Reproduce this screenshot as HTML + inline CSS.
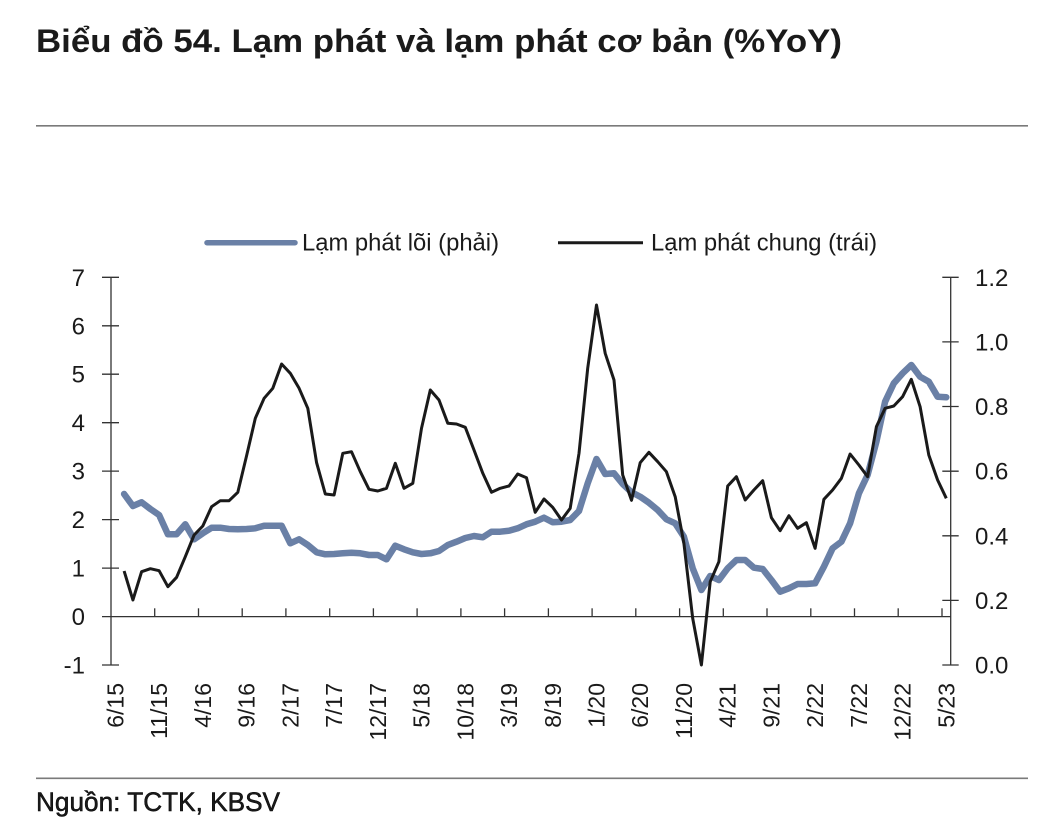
<!DOCTYPE html>
<html>
<head>
<meta charset="utf-8">
<style>
  html,body{margin:0;padding:0;background:#fff;}
  svg{display:block;}
  text{font-family:"Liberation Sans","DejaVu Sans",sans-serif;fill:#1a1a1a;}
</style>
</head>
<body>
<svg width="1038" height="830" viewBox="0 0 1038 830" xmlns="http://www.w3.org/2000/svg">
  <!-- Title -->
  <text x="36" y="52" font-size="32" font-weight="bold" fill="#000" textLength="806" lengthAdjust="spacingAndGlyphs">Biểu đồ 54. Lạm phát và lạm phát cơ bản (%YoY)</text>
  <line x1="36" y1="125.8" x2="1028" y2="125.8" stroke="#7a7a7a" stroke-width="1.6"/>

  <!-- Legend -->
  <line x1="207" y1="242.7" x2="295" y2="242.7" stroke="#6a80a6" stroke-width="5.5" stroke-linecap="round"/>
  <text x="302" y="250.5" font-size="24" textLength="197" lengthAdjust="spacingAndGlyphs">Lạm phát lõi (phải)</text>
  <line x1="558" y1="242.7" x2="643" y2="242.7" stroke="#1a1a1a" stroke-width="3"/>
  <text x="651" y="250.5" font-size="24" textLength="226" lengthAdjust="spacingAndGlyphs">Lạm phát chung (trái)</text>

  <!-- Left axis -->
  <g stroke="#333" stroke-width="1.3">
    <line x1="111" y1="277.3" x2="111" y2="665"/>
    <line x1="102" y1="277.3" x2="119" y2="277.3"/>
    <line x1="102" y1="325.8" x2="119" y2="325.8"/>
    <line x1="102" y1="374.2" x2="119" y2="374.2"/>
    <line x1="102" y1="422.7" x2="119" y2="422.7"/>
    <line x1="102" y1="471.1" x2="119" y2="471.1"/>
    <line x1="102" y1="519.6" x2="119" y2="519.6"/>
    <line x1="102" y1="568.1" x2="119" y2="568.1"/>
    <line x1="102" y1="665" x2="119" y2="665"/>
    <!-- Right axis -->
    <line x1="950.7" y1="277.3" x2="950.7" y2="665"/>
    <line x1="942.3" y1="277.3" x2="958.7" y2="277.3"/>
    <line x1="942.3" y1="341.9" x2="958.7" y2="341.9"/>
    <line x1="942.3" y1="406.5" x2="958.7" y2="406.5"/>
    <line x1="942.3" y1="471.2" x2="958.7" y2="471.2"/>
    <line x1="942.3" y1="535.8" x2="958.7" y2="535.8"/>
    <line x1="942.3" y1="600.4" x2="958.7" y2="600.4"/>
    <line x1="942.3" y1="665" x2="958.7" y2="665"/>
    <!-- X axis -->
    <line x1="102" y1="616.6" x2="950.7" y2="616.6"/>
    <line x1="154.7" y1="608.3" x2="154.7" y2="616.6"/>
    <line x1="198.5" y1="608.3" x2="198.5" y2="616.6"/>
    <line x1="242.2" y1="608.3" x2="242.2" y2="616.6"/>
    <line x1="285.9" y1="608.3" x2="285.9" y2="616.6"/>
    <line x1="329.7" y1="608.3" x2="329.7" y2="616.6"/>
    <line x1="373.4" y1="608.3" x2="373.4" y2="616.6"/>
    <line x1="417.1" y1="608.3" x2="417.1" y2="616.6"/>
    <line x1="460.9" y1="608.3" x2="460.9" y2="616.6"/>
    <line x1="504.6" y1="608.3" x2="504.6" y2="616.6"/>
    <line x1="548.4" y1="608.3" x2="548.4" y2="616.6"/>
    <line x1="592.1" y1="608.3" x2="592.1" y2="616.6"/>
    <line x1="635.8" y1="608.3" x2="635.8" y2="616.6"/>
    <line x1="679.6" y1="608.3" x2="679.6" y2="616.6"/>
    <line x1="723.3" y1="608.3" x2="723.3" y2="616.6"/>
    <line x1="767.0" y1="608.3" x2="767.0" y2="616.6"/>
    <line x1="810.8" y1="608.3" x2="810.8" y2="616.6"/>
    <line x1="854.5" y1="608.3" x2="854.5" y2="616.6"/>
    <line x1="898.2" y1="608.3" x2="898.2" y2="616.6"/>
    <line x1="942.0" y1="608.3" x2="942.0" y2="616.6"/>
  </g>

  <!-- Left axis labels -->
  <g font-size="24" text-anchor="end">
    <text x="85" y="285.8">7</text>
    <text x="85" y="334.3">6</text>
    <text x="85" y="382.7">5</text>
    <text x="85" y="431.2">4</text>
    <text x="85" y="479.6">3</text>
    <text x="85" y="528.1">2</text>
    <text x="85" y="576.6">1</text>
    <text x="85" y="625.1">0</text>
    <text x="85" y="673.5">-1</text>
  </g>
  <!-- Right axis labels -->
  <g font-size="24" text-anchor="start">
    <text x="975" y="285.8">1.2</text>
    <text x="975" y="350.4">1.0</text>
    <text x="975" y="415.0">0.8</text>
    <text x="975" y="479.7">0.6</text>
    <text x="975" y="544.3">0.4</text>
    <text x="975" y="608.9">0.2</text>
    <text x="975" y="673.5">0.0</text>
  </g>

  <!-- X labels (rotated) -->
  <g font-size="23" text-anchor="end">
    <text transform="translate(123.4,683) rotate(-90)">6/15</text>
    <text transform="translate(167.1,683) rotate(-90)">11/15</text>
    <text transform="translate(210.9,683) rotate(-90)">4/16</text>
    <text transform="translate(254.6,683) rotate(-90)">9/16</text>
    <text transform="translate(298.3,683) rotate(-90)">2/17</text>
    <text transform="translate(342.1,683) rotate(-90)">7/17</text>
    <text transform="translate(385.8,683) rotate(-90)">12/17</text>
    <text transform="translate(429.5,683) rotate(-90)">5/18</text>
    <text transform="translate(473.3,683) rotate(-90)">10/18</text>
    <text transform="translate(517.0,683) rotate(-90)">3/19</text>
    <text transform="translate(560.8,683) rotate(-90)">8/19</text>
    <text transform="translate(604.5,683) rotate(-90)">1/20</text>
    <text transform="translate(648.2,683) rotate(-90)">6/20</text>
    <text transform="translate(692.0,683) rotate(-90)">11/20</text>
    <text transform="translate(735.7,683) rotate(-90)">4/21</text>
    <text transform="translate(779.4,683) rotate(-90)">9/21</text>
    <text transform="translate(823.2,683) rotate(-90)">2/22</text>
    <text transform="translate(866.9,683) rotate(-90)">7/22</text>
    <text transform="translate(910.6,683) rotate(-90)">12/22</text>
    <text transform="translate(954.4,683) rotate(-90)">5/23</text>
  </g>

  <!-- Blue series (core inflation) -->
  <polyline fill="none" stroke="#6a80a6" stroke-width="6.5" stroke-linejoin="round" stroke-linecap="round" points="
124.1,494 132.9,506 141.6,502.3 150.4,509 159.1,515 167.9,534.3 176.6,534.3 185.3,524.3 194.1,539.3 202.8,533.3
211.6,527.7 220.3,527.7 229.1,529 237.8,529.3 246.6,529 255.3,528.3 264.1,525.7 272.8,525.7 281.6,525.7 290.3,543.3
299.1,539.3 307.8,545 316.6,552.3 325.3,554.3 334.1,554 342.8,553.3 351.5,552.7 360.3,553.3 369.0,555 377.8,555
386.5,559.3 395.3,545.7 404.0,549.3 412.8,552.3 421.5,554 430.3,553.3 439.0,551 447.8,545 456.5,541.7 465.3,538
474.0,536 482.8,537.3 491.5,531.7 500.2,531.7 509.0,530.7 517.7,528.3 526.5,524.3 535.2,521.7 544.0,517.7 552.7,522.3
561.5,521.7 570.2,520 579.0,511 587.7,483.3 596.5,459 605.2,474 614.0,473.3 622.7,484 631.5,492.2 640.2,496.7
648.9,502.7 657.7,510 666.4,519.3 675.2,523.3 683.9,536.7 692.7,568.3 701.4,590 710.2,576 718.9,580 727.7,568.3
736.4,560 745.2,560 753.9,567.7 762.7,569 771.4,580 780.1,591.7 788.9,588.3 797.6,584 806.4,584 815.1,583.3
823.9,566.7 832.6,548.3 841.4,541.7 850.1,523.3 858.9,493.3 867.6,475 876.4,441.7 885.1,401.7 893.8,383.3 902.6,373.3
911.3,365 920.1,376.7 928.8,381.7 937.6,396.7 946.3,397.3"/>

  <!-- Black series (headline inflation) -->
  <polyline fill="none" stroke="#1a1a1a" stroke-width="3" stroke-linejoin="round" points="
124.1,571 132.9,600 141.6,571.7 150.4,568.7 159.1,570.7 167.9,586.7 176.6,577.3 185.3,556.7 194.1,535 202.8,526
211.6,506.7 220.3,500.7 229.1,500.7 237.8,492.3 246.6,455.7 255.3,418.3 264.1,398.3 272.8,388.3 281.6,364 290.3,373.3
299.1,388.3 307.8,408.3 316.6,462.7 325.3,494 334.1,495 342.8,453.3 351.5,451.7 360.3,471.7 369.0,489.3 377.8,491
386.5,488.3 395.3,463.3 404.0,488.3 412.8,483.3 421.5,428.3 430.3,390 439.0,400 447.8,423.3 456.5,424 465.3,427.3
474.0,450 482.8,473.3 491.5,492.3 500.2,488.3 509.0,486 517.7,474 526.5,477.7 535.2,512.3 544.0,499 552.7,507.3
561.5,520 570.2,508.3 579.0,453.3 587.7,368.3 596.5,305 605.2,353.3 614.0,380 622.7,475 631.5,500.3 640.2,462.7
648.9,452.3 657.7,461.7 666.4,471.7 675.2,496.7 683.9,543.3 692.7,618.3 701.4,665 710.2,581.7 718.9,561.7 727.7,486
736.4,476.7 745.2,500 753.9,490 762.7,480.7 771.4,517.7 780.1,530.7 788.9,515.7 797.6,528.3 806.4,522.7 815.1,548.3
823.9,499.3 832.6,490 841.4,478.3 850.1,454 858.9,465 867.6,476.7 876.4,426.7 885.1,408.3 893.8,406 902.6,396.7
911.3,379.3 920.1,406.7 928.8,455 937.6,480 946.3,498.3"/>

  <!-- Footer -->
  <line x1="36" y1="778.3" x2="1028" y2="778.3" stroke="#7a7a7a" stroke-width="1.6"/>
  <text x="36" y="811" font-size="27" fill="#000" stroke="#000" stroke-width="0.5" textLength="244" lengthAdjust="spacingAndGlyphs">Nguồn: TCTK, KBSV</text>
</svg>
</body>
</html>
